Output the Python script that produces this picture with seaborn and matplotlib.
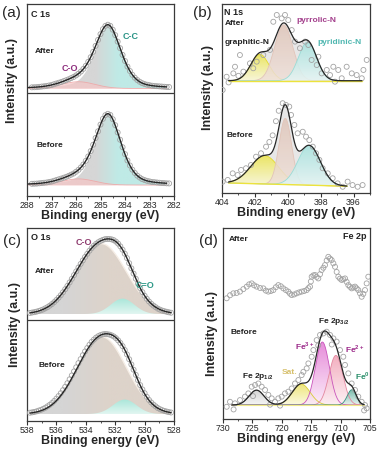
import numpy as np
import matplotlib.pyplot as plt
import seaborn as sns
from matplotlib.ticker import MultipleLocator
from matplotlib.colors import to_rgb

# -----------------------------
# DATA  (intensities in arbitrary units, each panel scaled 0-100)
# -----------------------------
# (a) C 1s
c1s_e = np.linspace(287.8, 282.2, 57)
c1s_after = [56.6, 56.65, 56.7, 56.85, 57.0, 57.15, 57.3, 57.55, 57.8, 58.2, 58.6, 59.0,
             59.4, 59.85, 60.3, 60.8, 61.4, 62.0, 62.8, 63.7, 64.8, 66.2, 67.8, 69.9,
             72.3, 75.1, 78.2, 81.3, 84.3, 86.9, 88.6, 89.2, 88.6, 86.6, 83.8, 80.4,
             77.0, 73.5, 70.3, 67.4, 65.1, 63.1, 61.6, 60.4, 59.5, 58.8, 58.3, 57.95,
             57.7, 57.45, 57.3, 57.2, 57.1, 57.0, 56.9, 56.8, 56.75]
c1s_before = [6.36, 6.41, 6.47, 6.61, 6.76, 6.9, 7.04, 7.29, 7.5, 7.92, 8.32, 8.7,
              9.09, 9.53, 9.97, 10.5, 11.1, 11.7, 12.6, 13.6, 14.9, 16.4, 18.3, 20.6,
              23.4, 26.7, 30.2, 33.7, 37.2, 40.2, 42.1, 42.8, 42.2, 40.0, 36.9, 33.1,
              29.3, 25.4, 21.8, 18.5, 15.9, 13.7, 12.0, 10.6, 9.6, 8.8, 8.3, 7.9,
              7.6, 7.3, 7.2, 7.05, 6.9, 6.8, 6.7, 6.6, 6.55]
c1s_names = ["C-C", "C-O"]
c1s_centers = [284.69, 285.9]
c1s_fwhm = [1.25, 1.6]
c1s_eta = [0.4, 0.0]
c1s_h_after = [32.5, 3.5]
c1s_h_before = [36.5, 3.2]
c1s_base = [56.0, 5.7]          # after, before

# (b) N 1s
n1s_after_e = [403.96, 403.72, 403.60, 403.31, 403.21, 403.00, 402.91, 402.70, 402.30,
               402.10, 401.89, 401.49, 401.08, 400.88, 400.67, 400.37, 400.17, 399.97,
               399.76, 399.56, 399.26, 398.95, 398.75, 398.55, 398.24, 398.14, 397.94,
               397.63, 397.43, 397.23, 397.13, 396.93, 396.72, 396.42, 396.11, 395.81,
               395.50, 395.40, 395.20]
n1s_after = [54.5, 61.5, 58.5, 63.3, 66.8, 62.0, 73.0, 64.2, 68.6, 66.0, 69.5, 73.0,
             75.7, 90.6, 94.2, 92.4, 94.2, 91.5, 86.2, 80.1, 76.6, 80.1, 78.3, 70.4,
             67.7, 72.1, 63.3, 65.1, 62.4, 66.8, 58.9, 65.1, 60.7, 66.8, 63.3, 62.4,
             60.7, 65.1, 70.4]
n1s_before_e = [403.96, 403.65, 403.35, 403.05, 402.84, 402.54, 402.24, 401.93, 401.63,
                401.32, 401.12, 400.92, 400.72, 400.55, 400.31, 400.11, 399.91, 399.80,
                399.60, 399.40, 399.09, 398.89, 398.69, 398.48, 398.28, 398.08, 397.88,
                397.57, 397.27, 396.97, 396.66, 396.36, 396.06, 395.75, 395.45]
n1s_before = [6.0, 6.9, 10.4, 9.5, 12.2, 13.1, 14.8, 19.2, 21.0, 24.5, 27.0, 30.5,
              38.0, 43.5, 47.5, 46.6, 45.7, 41.3, 36.0, 31.6, 32.4, 29.8, 28.0, 24.5,
              21.0, 17.5, 13.1, 10.4, 7.8, 5.1, 3.3, 6.0, 4.2, 3.3, 4.2]
n1s_names = ["graphitic-N", "pyrrolic-N", "pyridinic-N"]
n1s_c_after = [401.7, 400.25, 398.8]
n1s_w_after = [1.3, 1.3, 1.3]
n1s_h_after = [14.0, 29.5, 20.5]
n1s_c_before = [401.4, 400.15, 398.7]
n1s_w_before = [2.0, 0.9, 1.6]
n1s_h_before = [15.0, 35.0, 21.0]
n1s_base_after = [59.4, 59.4]    # left, right end of fit range
n1s_base_before = [5.3, 3.6]

# (c) O 1s
o1s_e = np.linspace(537.8, 528.2, 65)
o1s_after = [56.0, 56.2, 56.4, 56.67, 57.0, 57.38, 57.8, 58.39, 59.0, 59.77, 60.6, 61.59,
             62.7, 63.9, 65.2, 66.71, 68.3, 69.99, 71.8, 73.65, 75.6, 77.52, 79.5, 81.38,
             83.2, 84.99, 86.6, 88.23, 89.6, 90.78, 91.8, 92.64, 93.3, 93.81, 94.2, 94.33,
             94.3, 94.12, 93.7, 92.94, 91.9, 90.49, 88.75, 86.68, 84.4, 81.77, 79.1, 76.37,
             73.7, 71.19, 68.9, 66.75, 64.9, 63.29, 61.9, 60.75, 59.8, 58.97, 58.2, 57.68,
             57.2, 56.88, 56.6, 56.33, 56.1]
o1s_before = [4.3, 4.48, 4.7, 4.99, 5.4, 5.77, 6.3, 6.88, 7.6, 8.39, 9.3, 10.38, 11.6,
              12.92, 14.4, 16.0, 17.7, 19.6, 21.6, 23.6, 25.7, 27.84, 30.0, 32.07, 34.1,
              36.03, 37.8, 39.5, 41.0, 42.16, 43.2, 43.95, 44.5, 44.87, 45.1, 44.99, 44.8,
              44.38, 43.8, 42.93, 41.8, 40.44, 38.8, 36.77, 34.5, 31.99, 29.3, 26.58, 23.9,
              21.18, 18.6, 16.36, 14.4, 12.49, 10.9, 9.61, 8.5, 7.59, 6.7, 6.1, 5.6, 5.22,
              4.9, 4.62, 4.4]
o1s_names = ["C-O", "C=O"]
o1s_c_after = [532.95, 531.5]
o1s_w_after = [4.0, 1.9]
o1s_h_after = [36.5, 8.0]
o1s_c_before = [532.9, 531.35]
o1s_w_before = [3.9, 1.9]
o1s_h_before = [40.0, 7.5]
o1s_base = [55.4, 3.6]

# (d) Fe 2p
fe_after_e = [729.37, 728.80, 728.24, 727.68, 727.11, 726.54, 725.97, 725.55, 725.12,
              724.70, 724.27, 723.70, 723.14, 722.71, 722.29, 721.86, 721.44, 721.01,
              720.59, 720.16, 719.74, 719.31, 718.89, 718.60, 718.32, 717.89, 717.47,
              717.04, 716.62, 716.20, 715.77, 715.48, 715.20, 715.06, 714.92, 714.63,
              714.35, 714.07, 713.79, 713.50, 713.22, 712.93, 712.65, 712.37, 712.09,
              711.80, 711.52, 711.23, 710.95, 710.67, 710.39, 710.10, 709.82, 709.54,
              709.25, 708.97, 708.69, 708.40, 708.12, 707.84, 707.55, 707.27, 706.99,
              706.70, 706.42, 706.14, 705.85, 705.57, 705.29]
fe_after = [63.2, 64.8, 65.8, 66.0, 66.7, 68.0, 69.3, 70.5, 71.0, 70.0, 69.3, 68.6,
            68.4, 67.2, 66.7, 67.0, 67.5, 69.0, 70.1, 69.5, 68.4, 67.5, 66.7, 65.6,
            64.9, 65.2, 65.8, 66.3, 66.7, 67.0, 67.5, 68.5, 69.3, 72.0, 74.5, 75.2,
            75.4, 74.4, 73.6, 75.8, 78.0, 79.2, 80.6, 83.0, 84.9, 84.0, 83.2, 81.5,
            79.7, 77.0, 74.5, 73.5, 72.8, 73.2, 73.6, 71.8, 70.1, 69.2, 68.4, 68.9,
            69.3, 68.4, 67.5, 65.8, 64.0, 65.5, 67.5, 71.0, 74.5]
fe_before_e = [729.37, 728.81, 728.20, 727.96, 727.11, 726.26, 725.69, 725.12, 724.90,
               724.55, 723.98, 723.42, 722.85, 722.29, 722.00, 721.72, 721.16, 720.59,
               720.30, 720.02, 719.46, 718.89, 718.32, 717.75, 717.18, 716.62, 716.33,
               715.77, 715.48, 714.92, 714.63, 714.07, 713.80, 713.50, 712.93, 712.37,
               711.80, 711.50, 711.23, 710.67, 710.10, 709.54, 709.25, 708.69, 708.12,
               707.55, 706.99, 706.42, 706.00, 705.85, 705.57]
fe_before = [6.4, 9.0, 5.0, 8.2, 9.9, 11.7, 13.4, 16.9, 12.0, 17.8, 18.6, 16.9, 15.2,
             12.6, 7.5, 10.8, 9.0, 10.8, 7.0, 11.7, 13.4, 14.3, 16.0, 18.6, 20.4, 23.0,
             24.7, 26.5, 29.1, 32.6, 36.1, 41.3, 38.5, 44.0, 44.8, 45.7, 44.0, 39.0,
             42.2, 40.5, 36.1, 32.6, 28.3, 23.9, 18.6, 15.2, 11.7, 9.0, 4.5, 7.3, 5.6]
fe_names = ["Fe 2p1/2", "Sat.", "Fe3+", "Fe2+", "Fe0"]
fe_centers = [724.3, 716.7, 713.1, 710.8, 708.1]
fe_fwhm = [3.0, 3.6, 2.8, 2.8, 1.8]
fe_heights = [7.8, 11.0, 33.0, 26.0, 8.0]
fe_base = 7.3

# -----------------------------
# STYLE
# -----------------------------
sns.set_theme(style="ticks")
plt.rcParams['font.family'] = ['Liberation Sans', 'DejaVu Sans']
plt.rcParams['mathtext.fontset'] = 'custom'
plt.rcParams['mathtext.rm'] = 'Liberation Sans'
plt.rcParams['mathtext.bf'] = 'Liberation Sans:bold'

PT = '#a3a3a3'
FIT = '#262626'


def peak(e, c, w, h, eta=0.0):
    g = np.exp(-4 * np.log(2) * (e - c) ** 2 / w ** 2)
    lor = 1 / (1 + 4 * (e - c) ** 2 / w ** 2)
    return h * ((1 - eta) * g + eta * lor)


def points(ax, x, y):
    sns.scatterplot(x=x, y=y, ax=ax, s=13, marker='o', facecolors='none',
                    edgecolor=PT, linewidth=0.6, zorder=3)


def fit_line(ax, x, y, lw=1.0):
    sns.lineplot(x=x, y=y, ax=ax, color=FIT, lw=lw, sort=False, estimator=None, zorder=5)


def grad_fill(ax, x, lower, upper, c_a, c_b, axis='y', t0=None, t1=None, alpha=1.0, z=1):
    # gradient image clipped to the area between lower and upper
    poly = ax.fill_between(x, lower, upper, facecolor='none', edgecolor='none', lw=0)
    a, b = np.array(to_rgb(c_a)), np.array(to_rgb(c_b))
    n = 200
    ylo, yhi = float(np.min(lower)), float(np.max(upper))
    if axis == 'x':
        xs = np.linspace(x.max(), x.min(), n)
        t = np.clip((t0 - xs) / (t0 - t1), 0, 1)[None, :, None]
    else:
        t = np.linspace(0, 1, n)[:, None, None]
    img = a * (1 - t) + b * t
    if axis == 'x':
        img = np.repeat(img, 2, axis=0)
    im = ax.imshow(img, extent=(x.max(), x.min(), ylo, yhi), origin='lower',
                   aspect='auto', alpha=alpha, zorder=z, interpolation='bilinear')
    im.set_clip_path(poly.get_paths()[0], transform=ax.transData)


def style(ax, lo, hi, major, minor, ylab_xy, h_px):
    ax.set_xlim(lo, hi)
    ax.set_ylim(0, 100)
    ax.set_yticks([])
    ax.xaxis.set_major_locator(MultipleLocator(major))
    ax.xaxis.set_minor_locator(MultipleLocator(minor))
    ax.tick_params(axis='x', which='major', direction='out', length=3, width=0.8,
                   labelsize=6.3, pad=0.8, color='#333333')
    ax.tick_params(axis='x', which='minor', direction='out', length=1.6, width=0.6,
                   color='#333333')
    for sp in ax.spines.values():
        sp.set_linewidth(0.9)
        sp.set_color('#3a3a3a')
    ax.set_xlabel('Binding energy (eV)', fontsize=9, fontweight='bold')
    ax.xaxis.set_label_coords(0.5, -14.0 / h_px)
    ax.set_ylabel('Intensity (a.u.)', fontsize=9, fontweight='bold')
    ax.yaxis.set_label_coords(*ylab_xy)


def note(ax, x, y, s, color='#222222', size=6, ha='left'):
    ax.text(x, y, s, color=color, fontsize=size, fontweight='bold', ha=ha, va='center',
            zorder=6)


W, H = 383, 449
fig = plt.figure(figsize=(W / 100, H / 100), dpi=100)
ax_a = fig.add_axes([27 / W, 1 - 196 / H, 147 / W, 192 / H])
ax_b = fig.add_axes([222 / W, 1 - 193 / H, 148 / W, 189 / H])
ax_c = fig.add_axes([27 / W, 1 - 421 / H, 147 / W, 193 / H])
ax_d = fig.add_axes([223 / W, 1 - 419 / H, 147 / W, 191 / H])

# -----------------------------
# (a) C 1s
# -----------------------------
e = np.linspace(287.95, 282.3, 500)
for base, hs in zip(c1s_base, [c1s_h_after, c1s_h_before]):
    comps = [peak(e, c, w, h, k) for c, w, h, k in zip(c1s_centers, c1s_fwhm, hs, c1s_eta)]
    grad_fill(ax_a, e, np.full_like(e, base), base + comps[0], '#d6d6d6', '#bfeae6',
              axis='x', t0=285.2, t1=284.3)
    ax_a.fill_between(e, base, base + comps[1], color='#f4c6c6', alpha=0.75, lw=0, zorder=2)
    ax_a.plot(e, base + comps[1], color='#f0a9a9', lw=0.6, zorder=2)
    fit_line(ax_a, e, base + comps[0] + comps[1])
points(ax_a, c1s_e, c1s_after)
points(ax_a, c1s_e, c1s_before)
ax_a.axhline(53.8, color='#3a3a3a', lw=0.9, zorder=6)
style(ax_a, 288, 282, 1, 0.5, (-0.06, 0.6), 192)
note(ax_a, 287.85, 94.5, 'C 1s', size=6.5)
note(ax_a, 287.7, 75.5, 'After')
note(ax_a, 287.6, 26.5, 'Before')
note(ax_a, 284.1, 83, 'C-C', color='#2a9486', size=6.5)
note(ax_a, 286.6, 66.5, 'C-O', color='#8e2f7e', size=6.5)

# -----------------------------
# (b) N 1s
# -----------------------------
comp_b = {'graphitic-N': ('#fbf9d8', '#ece54c', '#e4da2a'),
          'pyrrolic-N': ('#efe0d9', '#e0c6ba', '#e2c4b8'),
          'pyridinic-N': ('#e6f6f5', '#a6e2de', '#9adcd7')}
for rng, cs, ws, hs, bs in [((403.6, 395.5), n1s_c_after, n1s_w_after, n1s_h_after, n1s_base_after),
                            ((403.6, 396.4), n1s_c_before, n1s_w_before, n1s_h_before, n1s_base_before)]:
    e = np.linspace(rng[0], rng[1], 500)
    base = np.interp(e, [rng[1], rng[0]], [bs[1], bs[0]])
    comps = [peak(e, c, w, h) for c, w, h in zip(cs, ws, hs)]
    env = base + np.sum(comps, axis=0)
    ax_b.fill_between(e, base, env, color='#e7e7e7', lw=0, zorder=1)
    for name, comp in zip(n1s_names, comps):
        lo_c, hi_c, ec = comp_b[name]
        grad_fill(ax_b, e, base, base + comp, lo_c, hi_c, alpha=0.85, z=2)
        ax_b.plot(e, base + comp, color=ec, lw=0.6, zorder=2)
    ax_b.plot(e, base, color='#ece33c', lw=1.0, zorder=2)
    fit_line(ax_b, e, env, lw=0.9)
points(ax_b, n1s_after_e, n1s_after)
points(ax_b, n1s_before_e, n1s_before)
style(ax_b, 404, 395, 2, 1, (-0.055, 0.56), 189)
note(ax_b, 403.85, 95.5, 'N 1s', size=6.5)
note(ax_b, 403.85, 89.5, 'After')
note(ax_b, 403.85, 79.5, 'graphitic-N')
note(ax_b, 399.5, 91.5, 'pyrrolic-N', color='#a33f8c')
note(ax_b, 398.2, 79.5, 'pyridinic-N', color='#4fb7b0')
note(ax_b, 403.7, 30.5, 'Before')

# -----------------------------
# (c) O 1s
# -----------------------------
e = np.linspace(537.8, 528.2, 500)
for base, cs, ws, hs in [(o1s_base[0], o1s_c_after, o1s_w_after, o1s_h_after),
                         (o1s_base[1], o1s_c_before, o1s_w_before, o1s_h_before)]:
    comps = [peak(e, c, w, h) for c, w, h in zip(cs, ws, hs)]
    grad_fill(ax_c, e, np.full_like(e, base), base + comps[0], '#d5d5d5', '#ddd3ca',
              axis='x', t0=535.5, t1=532.5)
    ax_c.plot(e, base + comps[0], color='#f6eee6', lw=1.0, zorder=1)
    grad_fill(ax_c, e, np.full_like(e, base), base + comps[1], '#e2f6f1', '#a9e6d9', z=2)
    fit_line(ax_c, e, base + comps[0] + comps[1])
points(ax_c, o1s_e, o1s_after)
points(ax_c, o1s_e, o1s_before)
ax_c.axhline(52.3, color='#3a3a3a', lw=0.9, zorder=6)
style(ax_c, 538, 528, 2, 1, (-0.04, 0.5), 193)
note(ax_c, 537.7, 95, 'O 1s', size=6.5)
note(ax_c, 537.5, 77.5, 'After')
note(ax_c, 537.2, 29, 'Before')
note(ax_c, 534.7, 92.5, 'C-O', color='#8e3b6e', size=6.5)
note(ax_c, 530.6, 70, 'C=O', color='#2f9a88', size=6.5)

# -----------------------------
# (d) Fe 2p
# -----------------------------
comp_d = [('#f4f4f4', '#cdcdcd', '#bdbdbd'), ('#fbf8dc', '#ebe160', '#d8cb36'),
          ('#fbeaf8', '#e277d3', '#c954bb'), ('#fdeff2', '#f1a0b4', '#e3879f'),
          ('#e4f3ef', '#5cae9b', '#3a8f80')]
e = np.linspace(728.5, 706.0, 600)
comps = [peak(e, c, w, h) for c, w, h in zip(fe_centers, fe_fwhm, fe_heights)]
for comp, (lo_c, hi_c, ec) in zip(comps, comp_d):
    grad_fill(ax_d, e, np.full_like(e, fe_base), fe_base + comp, lo_c, hi_c, alpha=0.85)
    ax_d.plot(e, fe_base + comp, color=ec, lw=0.6, zorder=2)
ax_d.plot(e, np.full_like(e, fe_base), color='#f0e98a', lw=0.8, zorder=2)
fit_line(ax_d, e, fe_base + np.sum(comps, axis=0), lw=0.9)
points(ax_d, fe_after_e, fe_after)
points(ax_d, fe_before_e, fe_before)
style(ax_d, 730, 705, 5, 2.5, (-0.035, 0.45), 191)
note(ax_d, 729.0, 94, 'After')
note(ax_d, 709.6, 95.5, 'Fe 2p', size=6.5)
note(ax_d, 728.8, 45.5, 'Before')
note(ax_d, 713.9, 51, r'Fe 2p$_{\mathbf{3/2}}$')
note(ax_d, 726.8, 22.5, r'Fe 2p$_{\mathbf{1/2}}$')
note(ax_d, 717.8, 38, r'Fe$^{\mathbf{3+}}$', color='#9c2a8a')
note(ax_d, 709.3, 36.8, r'Fe$^{\mathbf{2+}}$', color='#9c2a8a')
note(ax_d, 707.6, 22.5, r'Fe$^{\mathbf{0}}$', color='#2a8f6a')
note(ax_d, 720.1, 24.5, 'Sat.', color='#d6bf6a')

# panel letters
for x, y, s in [(11.5, 13.5, '(a)'), (202.5, 12.5, '(b)'), (12, 241, '(c)'), (208.5, 240.5, '(d)')]:
    fig.text(x / W, 1 - y / H, s, fontsize=11, ha='center', va='center')

fig.savefig('out.png', dpi=100)
